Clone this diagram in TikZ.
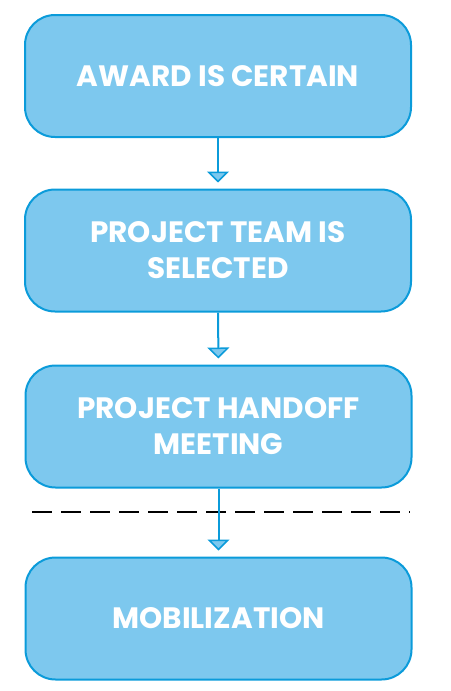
\documentclass[tikz,border=0pt]{standalone}
\usepackage{fontspec}
\setmainfont{Poppins}
\usetikzlibrary{arrows.meta}
\definecolor{boxfill}{HTML}{7DC8EE}
\definecolor{boxline}{HTML}{0B9BDA}
\tikzset{
  stagebox/.style={draw=boxline,fill=boxfill,line width=2pt,rounded corners=30pt,
    minimum width=386pt,minimum height=122pt,align=center,text=white,
    font=\fontsize{29.5}{36}\selectfont\bfseries},
  flowarrow/.style={draw=boxline,line width=2pt,shorten >=6pt,
    -{Triangle[width=22pt,length=11pt,fill=boxfill,line width=1.5pt]}},
  cutline/.style={draw=black,line width=1.6pt,dash pattern=on 20pt off 9pt}
}

\begin{document}
\begin{tikzpicture}[x=1pt,y=-1pt]
\useasboundingbox (0,0) rectangle (450,691);
\node [stagebox] (award) at (218,76) {AWARD IS CERTAIN};
\node [stagebox] (team) at (218,250.5) {PROJECT TEAM IS\\SELECTED};
\node [stagebox] (handoff) at (218.5,426.5) {PROJECT HANDOFF\\MEETING};
\node [stagebox] (mobil) at (218.5,618.5) {MOBILIZATION};
\coordinate (cutL) at (32,512);
\coordinate (cutR) at (410,512);
\draw [cutline] (cutL) -- (cutR);
\draw [flowarrow] (award) -- (team);
\draw [flowarrow] (team) -- (handoff);
\draw [flowarrow] (handoff) -- (mobil);
\end{tikzpicture}
\end{document}
